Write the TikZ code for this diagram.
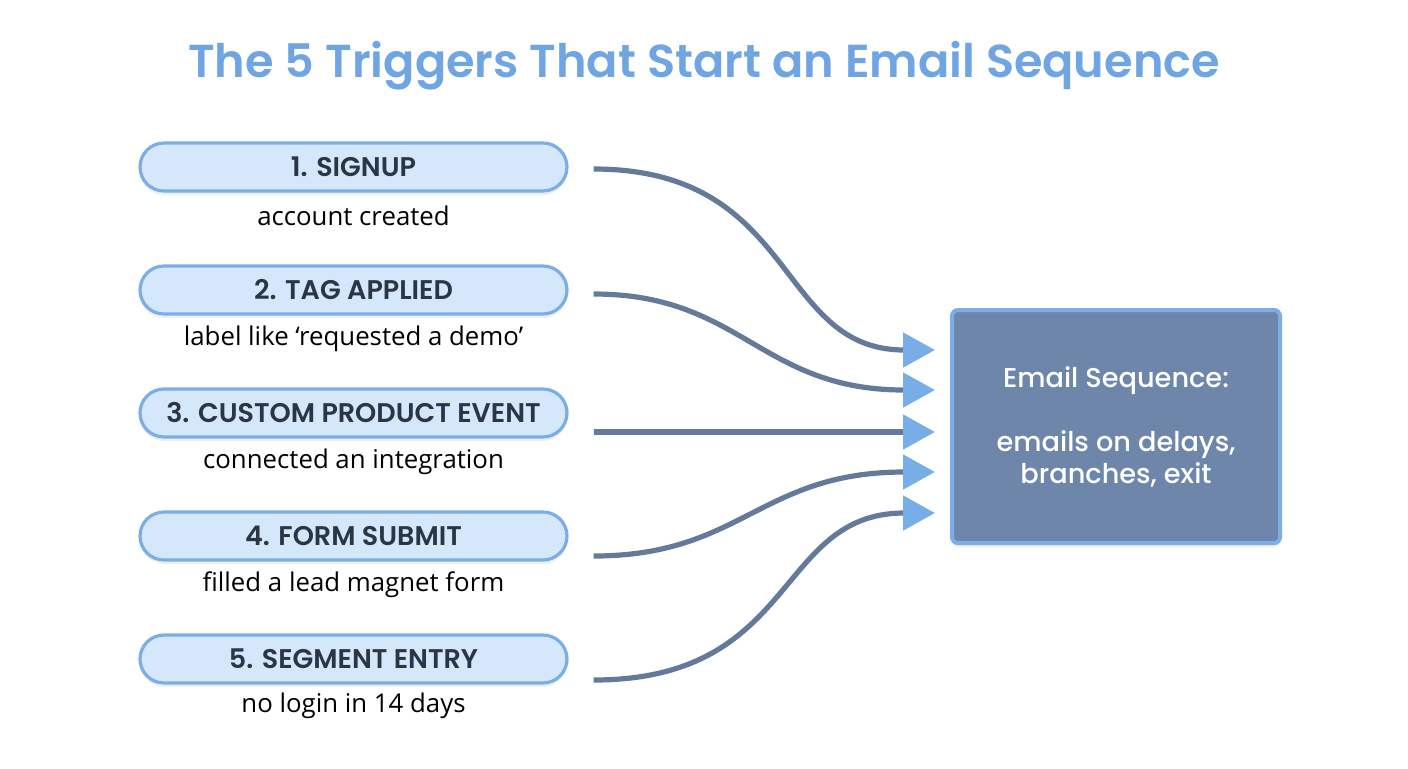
\documentclass[tikz,border=0pt]{standalone}
\usepackage{fontspec}
\setmainfont{Open Sans}
\newfontfamily\headfont{Poppins}[UprightFont=* Medium, BoldFont=* SemiBold]
\usetikzlibrary{arrows.meta,shadows}
\definecolor{titleblue}{HTML}{6FA5E3}
\definecolor{pillfill}{HTML}{D5E7FB}
\definecolor{pillline}{HTML}{7BAEE6}
\definecolor{pilltext}{HTML}{2B3645}
\definecolor{conncol}{HTML}{647A9B}
\definecolor{arrowcol}{HTML}{78AEE8}
\definecolor{boxfill}{HTML}{6E86A9}
\tikzset{
  pill/.style={draw=pillline, line width=1.6pt, fill=pillfill, rounded corners=12pt,
    minimum width=213.5pt, minimum height=24pt, inner sep=0pt,
    font=\headfont\bfseries\fontsize{13.5}{15}\selectfont, text=pilltext,
    drop shadow={shadow xshift=0pt, shadow yshift=-2pt, opacity=0.12}},
  desc/.style={font=\fontsize{12.9}{15}\selectfont, text=black, inner sep=0pt},
  conn/.style={draw=conncol, line width=2.6pt,
    -{Triangle[length=16pt, width=17pt, color=arrowcol]}},
  seqbox/.style={draw=pillline, line width=2pt, fill=boxfill, rounded corners=3pt,
    minimum width=164pt, minimum height=116.5pt, align=center, text=white,
    font=\headfont\fontsize{13.6}{16}\selectfont,
    drop shadow={shadow xshift=0pt, shadow yshift=-2pt, opacity=0.15}}
}
\begin{document}
\begin{tikzpicture}[x=0.5pt, y=-0.5pt]
\useasboundingbox[fill=white] (0,0) rectangle (1408,768);
\node[font=\headfont\bfseries\fontsize{23.1}{26}\selectfont, text=titleblue] (title) at (704,66) {The 5 Triggers That Start an Email Sequence};

\node[pill] (p1) at (353.5,167) {1. SIGNUP};
\node[pill] (p2) at (353.5,290) {2. TAG APPLIED};
\node[pill] (p3) at (353.5,413) {3. CUSTOM PRODUCT EVENT};
\node[pill] (p4) at (353.5,536) {4. FORM SUBMIT};
\node[pill] (p5) at (353.5,659) {5. SEGMENT ENTRY};

\node[desc] (d1) at (353.5,216) {account created};
\node[desc] (d2) at (353.5,339) {label like ‘requested a demo’};
\node[desc] (d3) at (353.5,462) {connected an integration};
\node[desc] (d4) at (353.5,585) {filled a lead magnet form};
\node[desc] (d5) at (353.5,706) {no login in 14 days};

\node[seqbox] (seq) at (1116,426.5) {Email Sequence:\\[16pt]emails on delays,\\branches, exit};

\coordinate (s1) at ([xshift=12.5pt,yshift=-1pt]p1.east);
\coordinate (s2) at ([xshift=12.5pt,yshift=-2pt]p2.east);
\coordinate (s3) at ([xshift=12.5pt,yshift=-9.5pt]p3.east);
\coordinate (s4) at ([xshift=12.5pt,yshift=-10pt]p4.east);
\coordinate (s5) at ([xshift=12.5pt,yshift=-10.5pt]p5.east);
\coordinate (t1) at (935,350);
\coordinate (t2) at (935,390);
\coordinate (t3) at (935,432);
\coordinate (t4) at (935,472);
\coordinate (t5) at (935,513);

\draw[conn] (s1) .. controls +(205,0) and +(-160,0) .. (t1);
\draw[conn] (s2) .. controls +(148,0) and +(-175,0) .. (t2);
\draw[conn] (s3) -- (t3);
\draw[conn] (s4) .. controls +(148,0) and +(-175,0) .. (t4);
\draw[conn] (s5) .. controls +(205,0) and +(-160,0) .. (t5);
\end{tikzpicture}
\end{document}
